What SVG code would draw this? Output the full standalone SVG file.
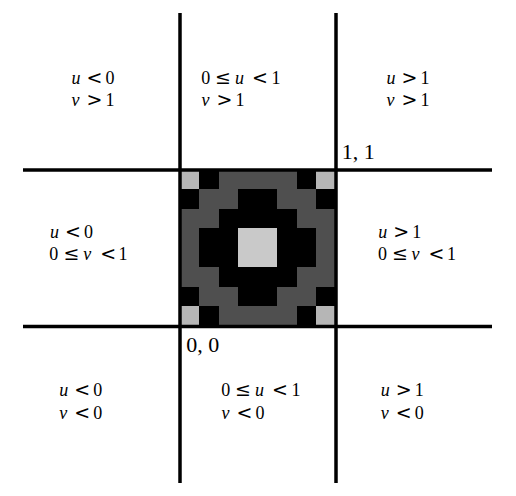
<svg xmlns="http://www.w3.org/2000/svg" width="516" height="496" viewBox="0 0 516 496">
<style>
text{font-family:'Liberation Serif','Times New Roman',serif;font-size:18px;fill:#000}
.i{font-style:italic}
.r{font-family:'DejaVu Serif',serif;font-size:19px}
.lbl{font-size:22px}
.dg{fill:#4f4f4f}
.lg{fill:#b6b6b6}
.lc{fill:#c9c9c9}
.ln{stroke:#000;stroke-width:3.5;fill:none}
</style>
<rect width="516" height="496" fill="#fff"/>
<g id="texture" shape-rendering="crispEdges">
<rect x="180" y="170" width="155.52" height="155.52" fill="#000"/>
<rect class="dg" x="218.88" y="170" width="77.76" height="19.44"/>
<rect class="dg" x="199.44" y="189.44" width="38.88" height="19.44"/>
<rect class="dg" x="277.2" y="189.44" width="38.88" height="19.44"/>
<rect class="dg" x="180" y="208.88" width="38.88" height="19.44"/>
<rect class="dg" x="296.64" y="208.88" width="38.88" height="19.44"/>
<rect class="dg" x="180" y="228.32" width="19.44" height="38.88"/>
<rect class="dg" x="316.08" y="228.32" width="19.44" height="38.88"/>
<rect class="dg" x="180" y="267.2" width="38.88" height="19.44"/>
<rect class="dg" x="296.64" y="267.2" width="38.88" height="19.44"/>
<rect class="dg" x="199.44" y="286.64" width="38.88" height="19.44"/>
<rect class="dg" x="277.2" y="286.64" width="38.88" height="19.44"/>
<rect class="dg" x="218.88" y="306.08" width="77.76" height="19.44"/>
<rect class="lg" x="180" y="170" width="19.44" height="19.44"/>
<rect class="lg" x="316.08" y="170" width="19.44" height="19.44"/>
<rect class="lg" x="180" y="306.08" width="19.44" height="19.44"/>
<rect class="lg" x="316.08" y="306.08" width="19.44" height="19.44"/>
<rect class="lc" x="238.32" y="228.32" width="38.88" height="38.88"/>
</g>
<g id="connectors">
<line class="ln" x1="180" y1="13" x2="180" y2="483"/>
<line class="ln" x1="336" y1="13" x2="336" y2="483"/>
<line class="ln" x1="23" y1="170" x2="492" y2="170"/>
<line class="ln" x1="23" y1="326.5" x2="492" y2="326.5"/>
</g>
<g id="region-tl">
<text y="84"><tspan class="i" x="71.5">u</tspan><tspan class="r" x="86.5">&lt;</tspan><tspan x="105.5">0</tspan></text>
<text y="106"><tspan class="i" x="71.5">v</tspan><tspan class="r" x="86.5">&gt;</tspan><tspan x="105.5">1</tspan></text>
</g>
<g id="region-tm">
<text y="84"><tspan x="201.3">0</tspan><tspan class="r" x="215">≤</tspan><tspan class="i" x="235">u</tspan><tspan class="r" x="252">&lt;</tspan><tspan x="271.5">1</tspan></text>
<text y="106"><tspan class="i" x="201.5">v</tspan><tspan class="r" x="216.5">&gt;</tspan><tspan x="235.5">1</tspan></text>
</g>
<g id="region-tr">
<text y="84"><tspan class="i" x="386.5">u</tspan><tspan class="r" x="401.5">&gt;</tspan><tspan x="420.5">1</tspan></text>
<text y="106"><tspan class="i" x="386.5">v</tspan><tspan class="r" x="401.5">&gt;</tspan><tspan x="420.5">1</tspan></text>
</g>
<g id="region-ml">
<text y="238"><tspan class="i" x="50">u</tspan><tspan class="r" x="65">&lt;</tspan><tspan x="84">0</tspan></text>
<text y="260"><tspan x="49.3">0</tspan><tspan class="r" x="63.5">≤</tspan><tspan class="i" x="83.3">v</tspan><tspan class="r" x="100.3">&lt;</tspan><tspan x="118.5">1</tspan></text>
</g>
<g id="region-mr">
<text y="238"><tspan class="i" x="378.3">u</tspan><tspan class="r" x="393.3">&gt;</tspan><tspan x="412.3">1</tspan></text>
<text y="260"><tspan x="378">0</tspan><tspan class="r" x="392">≤</tspan><tspan class="i" x="411.6">v</tspan><tspan class="r" x="428.6">&lt;</tspan><tspan x="447">1</tspan></text>
</g>
<g id="region-bl">
<text y="396"><tspan class="i" x="59.3">u</tspan><tspan class="r" x="74.3">&lt;</tspan><tspan x="93.3">0</tspan></text>
<text y="419"><tspan class="i" x="59.3">v</tspan><tspan class="r" x="74.3">&lt;</tspan><tspan x="93.3">0</tspan></text>
</g>
<g id="region-bm">
<text y="396"><tspan x="221.3">0</tspan><tspan class="r" x="235">≤</tspan><tspan class="i" x="255">u</tspan><tspan class="r" x="272">&lt;</tspan><tspan x="291.5">1</tspan></text>
<text y="419"><tspan class="i" x="221.5">v</tspan><tspan class="r" x="236.5">&lt;</tspan><tspan x="255.5">0</tspan></text>
</g>
<g id="region-br">
<text y="396"><tspan class="i" x="380.7">u</tspan><tspan class="r" x="395.7">&gt;</tspan><tspan x="414.7">1</tspan></text>
<text y="419"><tspan class="i" x="380.7">v</tspan><tspan class="r" x="395.7">&lt;</tspan><tspan x="414.7">0</tspan></text>
</g>
<g id="label-11"><text class="lbl" x="341.8" y="158.5">1, 1</text></g>
<g id="label-00"><text class="lbl" x="186.2" y="352">0, 0</text></g>
</svg>
